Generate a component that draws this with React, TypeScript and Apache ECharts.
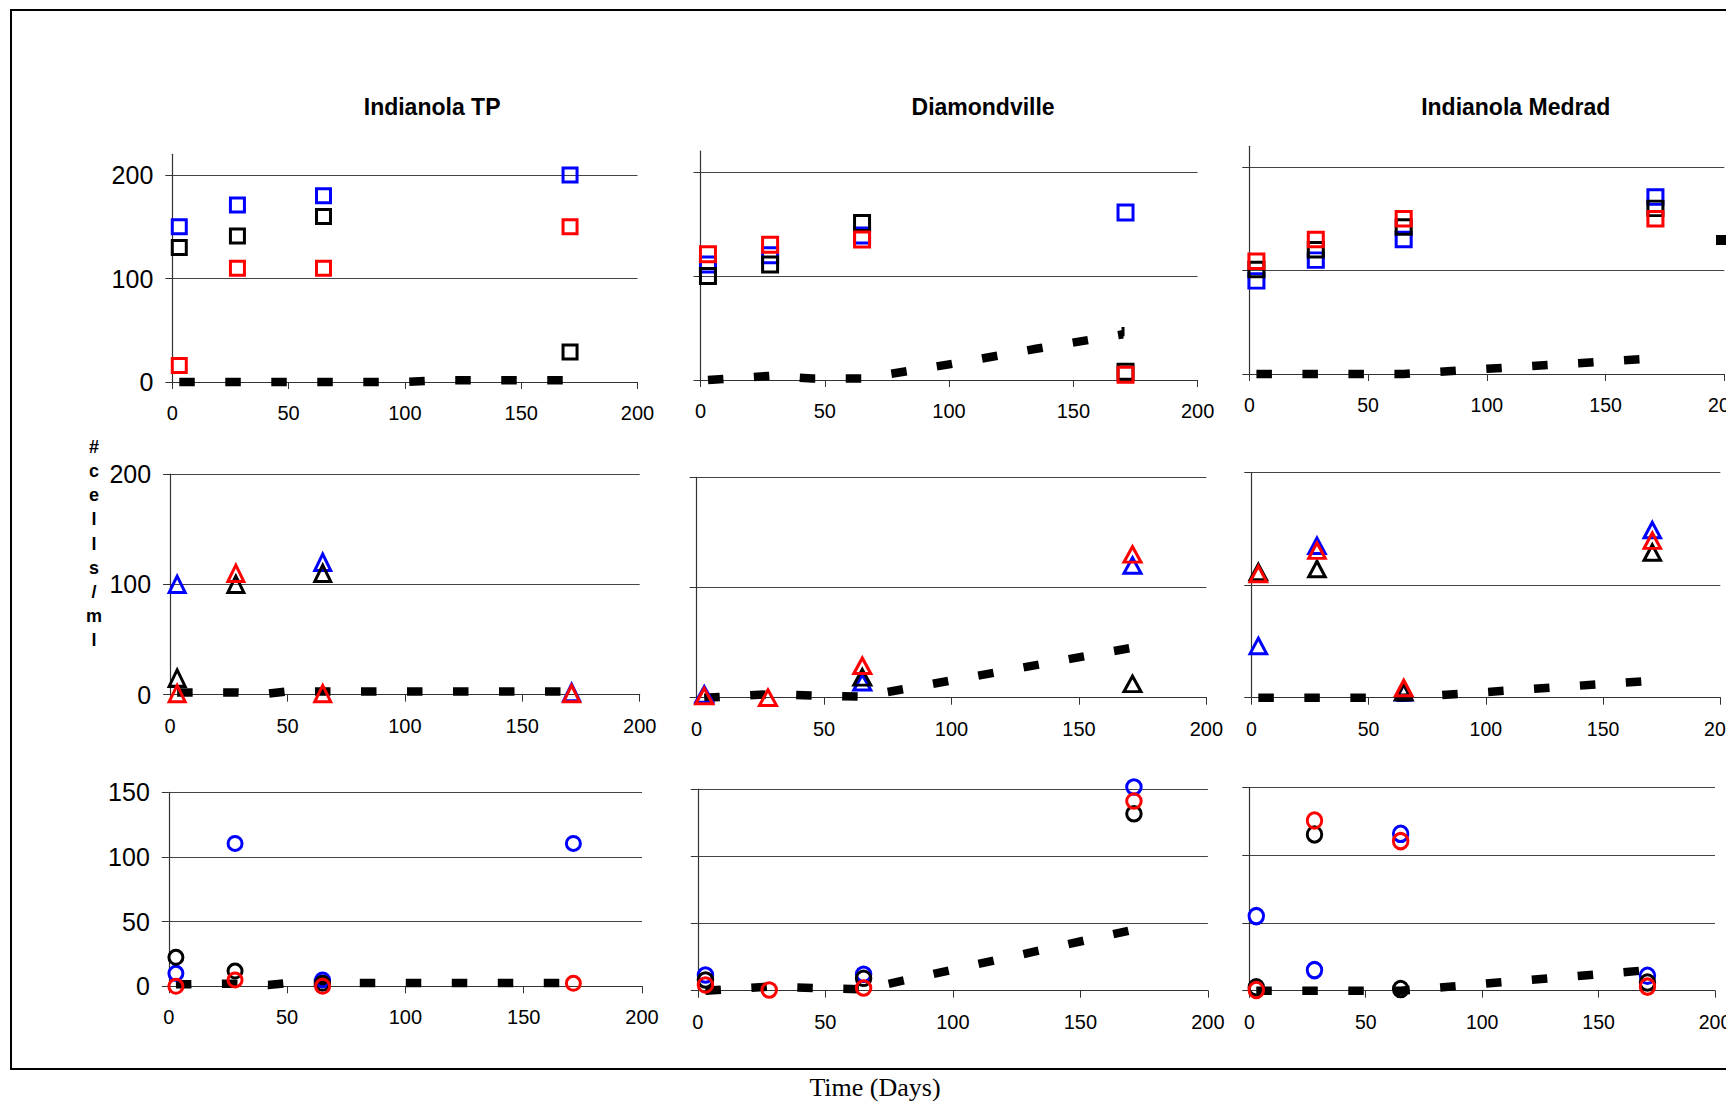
import React, { useEffect, useRef } from 'react';
import * as echarts from 'echarts';

// ---------- data ----------
const sampleDays = [3, 28, 65, 171];
const siteTitles = ['Indianola TP', 'Diamondville', 'Indianola Medrad'];
const yAxisTitle = '# c e l l s / m l';
const xAxisTitle = 'Time (Days)';
const xTickValues = [0, 50, 100, 150, 200];
const yTicksSquares = [0, 100, 200];
const yTicksTriangles = [0, 100, 200];
const yTicksCircles = [0, 50, 100, 150];

// Row 1: squares (blue / black / red)
const tpSqBlue = [150, 171, 180, 200];
const tpSqBlack = [130, 141, 160, 29];
const tpSqRed = [16, 110, 110, 150];
const dvSqBlue = [111, 120, 139, 161];
const dvSqBlack = [100, 111, 151, 8];
const dvSqRed = [121, 130, 135, 5];
const mdSqBlue = [90, 110, 130, 171];
const mdSqBlack = [101, 120, 142, 160];
const mdSqRed = [109, 130, 150, 150];

// Row 2: triangles
const tpTriBlue = [100, null, 120, 2];
const tpTriBlack = [15, 100, 110, null];
const tpTriRed = [1, 110, 1, 1];
const dvTriBlue = [3, null, 14, 120];
const dvTriBlack = [null, null, 18.5, 12.5];
const dvTriRed = [1.5, 0, 29, 130];
const mdTriBlue = [46, 135, 4.7, 149];
const mdTriBlack = [111.7, 114.4, 5, 129];
const mdTriRed = [110, 130.7, 8.6, 139.6];

// Row 3: circles
const tpCirBlue = [10, 110.5, 4.9, 110.5];
const tpCirBlack = [22.4, 11.8, 2.3, null];
const tpCirRed = [0, 4.9, 0, 2.3];
const dvCirBlue = [11.7, null, 12.2, 151.5];
const dvCirBlack = [8, null, 9.2, 131.6];
const dvCirRed = [4.3, 0.5, 2, 141];
const mdCirBlue = [55, 15.2, 115.7, 11];
const mdCirBlack = [2.5, 115.2, 1.2, 6];
const mdCirRed = [0.5, 125.5, 110.3, 3];

// Dashed trend lines
const tpLine1Days = [3, 28, 65, 100, 115, 170];
const tpLine1Vals = [0, 0, 0, 0, 1.6, 1.6];
const tpLine2Days = [3, 28, 42, 50, 170];
const tpLine2Vals = [2, 2, 1, 3, 3];
const tpLine3Days = [3, 28, 42, 50, 170];
const tpLine3Vals = [1.5, 2, 1, 2.5, 2.5];
const dvLine1Days = [3, 28, 45, 65, 100, 135, 170];
const dvLine1Vals = [0, 4, 1.5, 1.5, 15, 30, 44];
const dvLine1EndDays = [170, 170];
const dvLine1EndVals = [42, 51];
const dvLine2Days = [3, 28, 45, 65, 170];
const dvLine2Vals = [0, 3, 2, 1, 45];
const dvLine3Days = [3, 28, 45, 65, 170];
const dvLine3Vals = [0, 3, 2, 1, 45];
const mdLineDays = [3, 65, 170];
const mdLine1Vals = [0, 0, 15];
const mdLine2Vals = [0, 0, 15];
const mdLine3Vals = [0, 0, 15];

// ---------- layout / style ----------
const GRIDS = [
  { left: 172.3, top: 154.3, width: 465.2, height: 227.7 },
  { left: 700.5, top: 151.2, width: 497.1, height: 228.8 },
  { left: 1249.3, top: 146.3, width: 475, height: 227.7 },
  { left: 170.1, top: 474, width: 469.6, height: 220.7 },
  { left: 696.6, top: 477.3, width: 509.8, height: 220.4 },
  { left: 1251.3, top: 472.7, width: 469, height: 225 },
  { left: 168.8, top: 792.3, width: 473.2, height: 194 },
  { left: 697.8, top: 789, width: 510.1, height: 201.7 },
  { left: 1249.3, top: 787.3, width: 465.7, height: 203.4 },
];

const ELLIPSE = 'path://M0,-1A1,1 0 1,1 0,1A1,1 0 1,1 0,-1Z';
const BLUE = '#0000FF';
const RED = '#FF0000';
const BLACK = '#000000';
const SANS = '"Liberation Sans", Arial, sans-serif';

function pts(days: number[], vals: (number | null)[]) {
  const out: number[][] = [];
  vals.forEach((v, i) => {
    if (v !== null && v !== undefined) out.push([days[i], v]);
  });
  return out;
}

export default function App() {
  const ref = useRef<HTMLDivElement>(null);

  useEffect(() => {
    document.body.style.margin = '0';
    document.body.style.overflow = 'hidden';
    if (!ref.current) return;
    const chart = echarts.init(ref.current, null, { renderer: 'svg' });

    const dash = [15.5, 30.5];
    const panels = [
      { sym: 'rect', size: [14, 14], blue: tpSqBlue, black: tpSqBlack, red: tpSqRed, lines: [[tpLine1Days, tpLine1Vals]] },
      { sym: 'rect', size: [15, 15], blue: dvSqBlue, black: dvSqBlack, red: dvSqRed, lines: [[dvLine1Days, dvLine1Vals]], extra: [dvLine1EndDays, dvLine1EndVals] },
      { sym: 'rect', size: [15, 14.5], blue: mdSqBlue, black: mdSqBlack, red: mdSqRed, lines: [[mdLineDays, mdLine1Vals]] },
      { sym: 'triangle', size: [16, 16.5], blue: tpTriBlue, black: tpTriBlack, red: tpTriRed, lines: [[tpLine2Days, tpLine2Vals]] },
      { sym: 'triangle', size: [17, 15.5], blue: dvTriBlue, black: dvTriBlack, red: dvTriRed, lines: [[dvLine2Days, dvLine2Vals]] },
      { sym: 'triangle', size: [16.5, 15.5], blue: mdTriBlue, black: mdTriBlack, red: mdTriRed, lines: [[mdLineDays, mdLine2Vals]] },
      { sym: ELLIPSE, size: [14, 14], blue: tpCirBlue, black: tpCirBlack, red: tpCirRed, lines: [[tpLine3Days, tpLine3Vals]] },
      { sym: ELLIPSE, size: [14.5, 14.5], blue: dvCirBlue, black: dvCirBlack, red: dvCirRed, lines: [[dvLine3Days, dvLine3Vals]] },
      { sym: ELLIPSE, size: [14.5, 15.5], blue: mdCirBlue, black: mdCirBlack, red: mdCirRed, lines: [[mdLineDays, mdLine3Vals]] },
    ];

    const xAxes: any[] = [];
    const yAxes: any[] = [];
    const series: any[] = [];

    panels.forEach((p, i) => {
      const row = Math.floor(i / 3);
      const col = i % 3;
      const yTicks = row === 0 ? yTicksSquares : row === 1 ? yTicksTriangles : yTicksCircles;
      const yMax = row === 0 ? 220 : row === 1 ? 200 : 150;
      const yInterval = row === 2 ? 50 : 100;
      const xSize = col === 2 ? 19.5 : 20;

      xAxes.push({
        type: 'value',
        gridIndex: i,
        min: 0,
        max: 200,
        interval: 50,
        axisLine: { show: true, onZero: false, lineStyle: { color: '#333', width: 1.2 } },
        axisTick: { show: true, inside: false, length: 7, lineStyle: { color: '#333' }, customValues: xTickValues },
        axisLabel: { show: true, margin: 21, color: '#000', fontFamily: SANS, fontSize: xSize, customValues: xTickValues },
        splitLine: { show: false },
      });
      yAxes.push({
        type: 'value',
        gridIndex: i,
        min: 0,
        max: yMax,
        interval: yInterval,
        axisLine: { show: true, onZero: false, lineStyle: { color: '#333', width: 1.2 } },
        axisTick: { show: true, inside: false, length: 7, lineStyle: { color: '#333' }, customValues: yTicks },
        axisLabel: {
          show: col === 0,
          margin: 19,
          color: '#000',
          fontFamily: SANS,
          fontSize: 25,
          customValues: yTicks,
        },
        splitLine: { show: true, lineStyle: { color: '#444', width: 1.2 } },
      });

      p.lines.forEach(([d, v]: any) => {
        series.push({
          type: 'line',
          xAxisIndex: i,
          yAxisIndex: i,
          data: pts(d, v),
          symbol: 'none',
          silent: true,
          clip: false,
          lineStyle: { color: BLACK, width: 8.5, type: dash, cap: 'butt', join: 'miter' },
          z: 2,
        });
      });
      if ((p as any).extra) {
        const [d, v] = (p as any).extra;
        series.push({
          type: 'line',
          xAxisIndex: i,
          yAxisIndex: i,
          data: pts(d, v),
          symbol: 'none',
          silent: true,
          clip: false,
          lineStyle: { color: BLACK, width: 3, type: 'solid', cap: 'butt' },
          z: 2,
        });
      }
      const mk = (vals: (number | null)[], color: string) => ({
        type: 'scatter',
        xAxisIndex: i,
        yAxisIndex: i,
        data: pts(sampleDays, vals),
        symbol: p.sym,
        symbolSize: p.size,
        clip: false,
        itemStyle: { color: 'rgba(0,0,0,0)', borderColor: color, borderWidth: 3, opacity: 1 },
        z: 3,
      });
      series.push(mk(p.blue, BLUE));
      series.push(mk(p.black, BLACK));
      series.push(mk(p.red, RED));
    });

    const titleX = [432.1, 983.1, 1515.7];

    const graphics: any[] = [
      {
        type: 'rect',
        shape: { x: 11, y: 10, width: 1760, height: 1059 },
        style: { fill: 'none', stroke: '#000', lineWidth: 2 },
        silent: true,
      },
      ...siteTitles.map((t, k) => ({
        type: 'text',
        x: titleX[k],
        y: 107,
        style: {
          text: t,
          fill: '#000',
          font: `bold 23px ${SANS}`,
          textAlign: 'center',
          textVerticalAlign: 'middle',
        },
      })),
      {
        type: 'text',
        x: 94,
        y: 543.5,
        style: {
          text: yAxisTitle.split(' ').join('\n'),
          fill: '#000',
          font: `bold 18px ${SANS}`,
          lineHeight: 24.2,
          textAlign: 'center',
          textVerticalAlign: 'middle',
        },
      },
      {
        type: 'text',
        x: 875,
        y: 1087,
        style: {
          text: xAxisTitle,
          fill: '#000',
          font: '26px "Liberation Serif", "Times New Roman", serif',
          textAlign: 'center',
          textVerticalAlign: 'middle',
        },
      },
      {
        type: 'rect',
        shape: { x: 1716, y: 235, width: 20, height: 10 },
        style: { fill: '#000' },
        silent: true,
      },
    ];

    chart.setOption({
      animation: false,
      backgroundColor: '#fff',
      grid: GRIDS.map((g) => ({ ...g, containLabel: false, outerBoundsMode: 'none' })),
      xAxis: xAxes,
      yAxis: yAxes,
      series,
      graphic: graphics,
    });

    return () => chart.dispose();
  }, []);

  return (
    <div
      ref={ref}
      style={{ position: 'fixed', left: 0, top: 0, width: 1726, height: 1102, background: '#fff' }}
    />
  );
}
